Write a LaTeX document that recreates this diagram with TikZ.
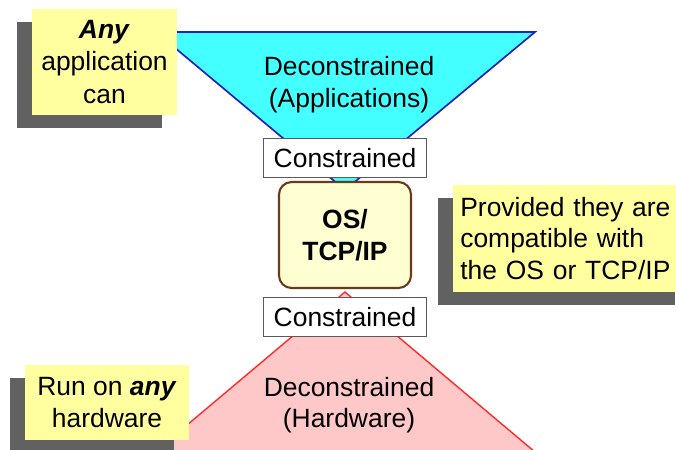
\documentclass[tikz,border=0pt]{standalone}
\usepackage{fontspec}
\setmainfont{Liberation Sans}
\usetikzlibrary{shadows}
\definecolor{appcyan}{HTML}{44FFFF}
\definecolor{appblue}{HTML}{2222BB}
\definecolor{hwpink}{HTML}{FFC8C8}
\definecolor{hwred}{HTML}{FF2A2A}
\definecolor{notey}{HTML}{FFFFA0}
\definecolor{oscream}{HTML}{FFFFD2}
\definecolor{osbrown}{HTML}{6B3A1A}
\tikzset{
  big/.style={font=\fontsize{18.8}{22.5}\selectfont},
  constr/.style={big,draw=black!65,line width=0.7pt,fill=white,
    minimum width=116.6pt,minimum height=28.4pt,inner sep=0pt},
  note/.style={big,fill=notey,inner sep=0pt,
    drop shadow={shadow xshift=-10.7pt,shadow yshift=-9.2pt,fill=black!62,opacity=1}},
}
\begin{document}
\begin{tikzpicture}[x=0.025cm,y=-0.025cm]
\clip (0,0) rectangle (676,449);
\useasboundingbox (0,0) rectangle (676,449);

%%%%%%%%%%% les deux entonnoirs
\filldraw[fill=appcyan,draw=appblue,line width=1.2pt] (156,32) -- (535,32) -- (345,190) -- cycle;
\node[big,align=center] (apps) at (349,84.5) {Deconstrained\\(Applications)};

\filldraw[fill=hwpink,draw=hwred,line width=1pt] (345,292) -- (535,452) -- (155,452) -- cycle;
\node[big,align=center] (hw) at (349,405) {Deconstrained\\(Hardware)};

% ---------------    taille
\node[constr] (ctop) at (345,158) {Constrained};
\node[constr] (cbot) at (345,317) {Constrained};
\node[draw=osbrown,line width=1.5pt,fill=oscream,rounded corners=9pt,
  minimum width=93.9pt,minimum height=75.4pt,align=center,
  font=\fontsize{18.8}{22.8}\selectfont\bfseries] (os) at (345,235) {OS/\\TCP/IP};

% ---------------    remarques
\node[note,minimum width=103.1pt,minimum height=75.4pt,align=center,
  font=\fontsize{18.8}{23.4}\selectfont] (any) at (104.5,62)
  {\textbf{\textit{Any}}\\application\\can};
\node[note,anchor=west,minimum width=168.6pt,minimum height=76.1pt,
  inner xsep=5pt,text width=158.6pt,align=left] (compat) at (453,238.5)
  {Provided they are\\compatible with\\the OS or TCP/IP};
\node[note,minimum width=116.7pt,minimum height=53.3pt,align=center] (run) at (107,402.5)
  {Run on \textbf{\textit{any}}\\hardware};
\end{tikzpicture}
\end{document}
